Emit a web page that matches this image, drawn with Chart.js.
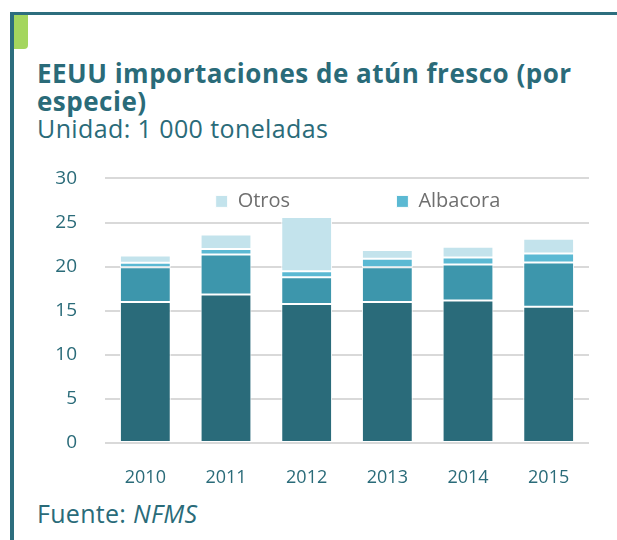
<!DOCTYPE html>
<html>
<head>
    <meta charset="utf-8">
    <title>EEUU importaciones de atún fresco</title>
    <script src="https://cdn.jsdelivr.net/npm/chart.js"></script>
    <style>
        body { margin: 0; width: 617px; height: 540px; background: #fff; position: relative; overflow: hidden; font-family: "Open Sans", sans-serif; }
        .topline { position: absolute; left: 10px; top: 12px; width: 607px; height: 3px; background: #2d6e7e; }
        .leftline { position: absolute; left: 10px; top: 12px; width: 4px; height: 528px; background: #2d6e7e; }
        .tab { position: absolute; left: 14px; top: 15px; width: 14px; height: 34px; background: #a4d65e; border-bottom-right-radius: 4px; }
        .title { position: absolute; left: 37px; top: 59px; color: #2a6b79; font-weight: bold; font-size: 26px; line-height: 28px; letter-spacing: 0.5px; white-space: nowrap; }
        .sub { position: absolute; left: 37px; top: 111px; color: #2a6b79; font-size: 25px; letter-spacing: 0.4px; white-space: nowrap; }
        .src { position: absolute; left: 37px; top: 496px; color: #2a6b79; font-size: 25px; letter-spacing: 0.3px; white-space: nowrap; }
        #wrap { position: absolute; left: 14px; top: 139px; width: 603px; height: 361px; }
    </style>
</head>
<body>
    <div class="topline"></div>
    <div class="leftline"></div>
    <div class="tab"></div>
    <div class="title">EEUU importaciones de atún fresco (por<br>especie)</div>
    <div class="sub">Unidad: 1 000 toneladas</div>
    <div class="src">Fuente: <i>NFMS</i></div>
    <div id="wrap"><canvas id="tunaChart" width="603" height="361"></canvas></div>

    <script>
    const years = ['2010', '2011', '2012', '2013', '2014', '2015'];
    // thousand tonnes
    const aletaAmarilla = [16.0, 16.85, 15.76, 16.0, 16.17, 15.45];
    const patudo = [3.94, 4.53, 3.02, 3.94, 4.08, 5.02];
    const albacora = [0.49, 0.62, 0.68, 0.94, 0.79, 1.02];
    const otros = [0.84, 1.64, 6.17, 0.99, 1.2, 1.66];
    const yTicks = [0, 5, 10, 15, 20, 25, 30];

    const teal = '#2a6b79';
    const seg = (label, data, color) => ({
        label: label,
        data: data,
        backgroundColor: color,
        borderColor: '#ffffff',
        borderWidth: 1,
        borderSkipped: false,
        barPercentage: 0.63,
        categoryPercentage: 1.0
    });

    // legend takes no room in the layout; put it inside the plot, top, a bit right of centre
    const legendInside = {
        id: 'legendInside',
        afterLayout(chart) {
            const lg = chart.legend;
            lg.top = chart.chartArea.top;
            lg.bottom = lg.top + 50;
            lg.height = 50;
            lg.left += 11;
            lg.right += 11;
        }
    };

    const ctx = document.getElementById('tunaChart').getContext('2d');
    new Chart(ctx, {
        type: 'bar',
        data: {
            labels: years,
            datasets: [
                seg('Aleta amarilla', aletaAmarilla, '#2a6b7a'),
                seg('Patudo', patudo, '#3d96ac'),
                seg('Albacora', albacora, '#5bb9d3'),
                seg('Otros\u2003\u2003\u2003\u2003\u2002\u2009', otros, '#c3e3ec')
            ]
        },
        plugins: [legendInside],
        options: {
            responsive: false,
            animation: false,
            layout: { padding: { top: 0, right: 28, left: 0, bottom: 0 } },
            plugins: {
                tooltip: { enabled: false },
                legend: {
                    position: 'top',
                    fullSize: false,
                    maxHeight: 1,
                    reverse: true,
                    labels: {
                        filter: item => item.datasetIndex >= 2,
                        boxWidth: 12,
                        boxHeight: 12,
                        padding: 13,
                        color: '#6f6f6f',
                        font: { family: 'Open Sans', size: 20 }
                    }
                }
            },
            scales: {
                x: {
                    stacked: true,
                    grid: { display: false },
                    border: { display: false },
                    ticks: { color: teal, padding: 16, font: { family: 'Open Sans', size: 18 } },
                    afterFit: s => { s.height = 57; }
                },
                y: {
                    stacked: true,
                    min: 0,
                    max: 30,
                    afterBuildTicks: s => { s.ticks = yTicks.map(v => ({ value: v })); },
                    grid: { color: '#d9d9d9', lineWidth: 2, drawTicks: false },
                    border: { display: false },
                    ticks: { color: teal, padding: 28, font: { family: 'Open Sans', size: 19 } },
                    afterFit: s => { s.width = 91; }
                }
            }
        }
    });
    </script>
</body>
</html>
